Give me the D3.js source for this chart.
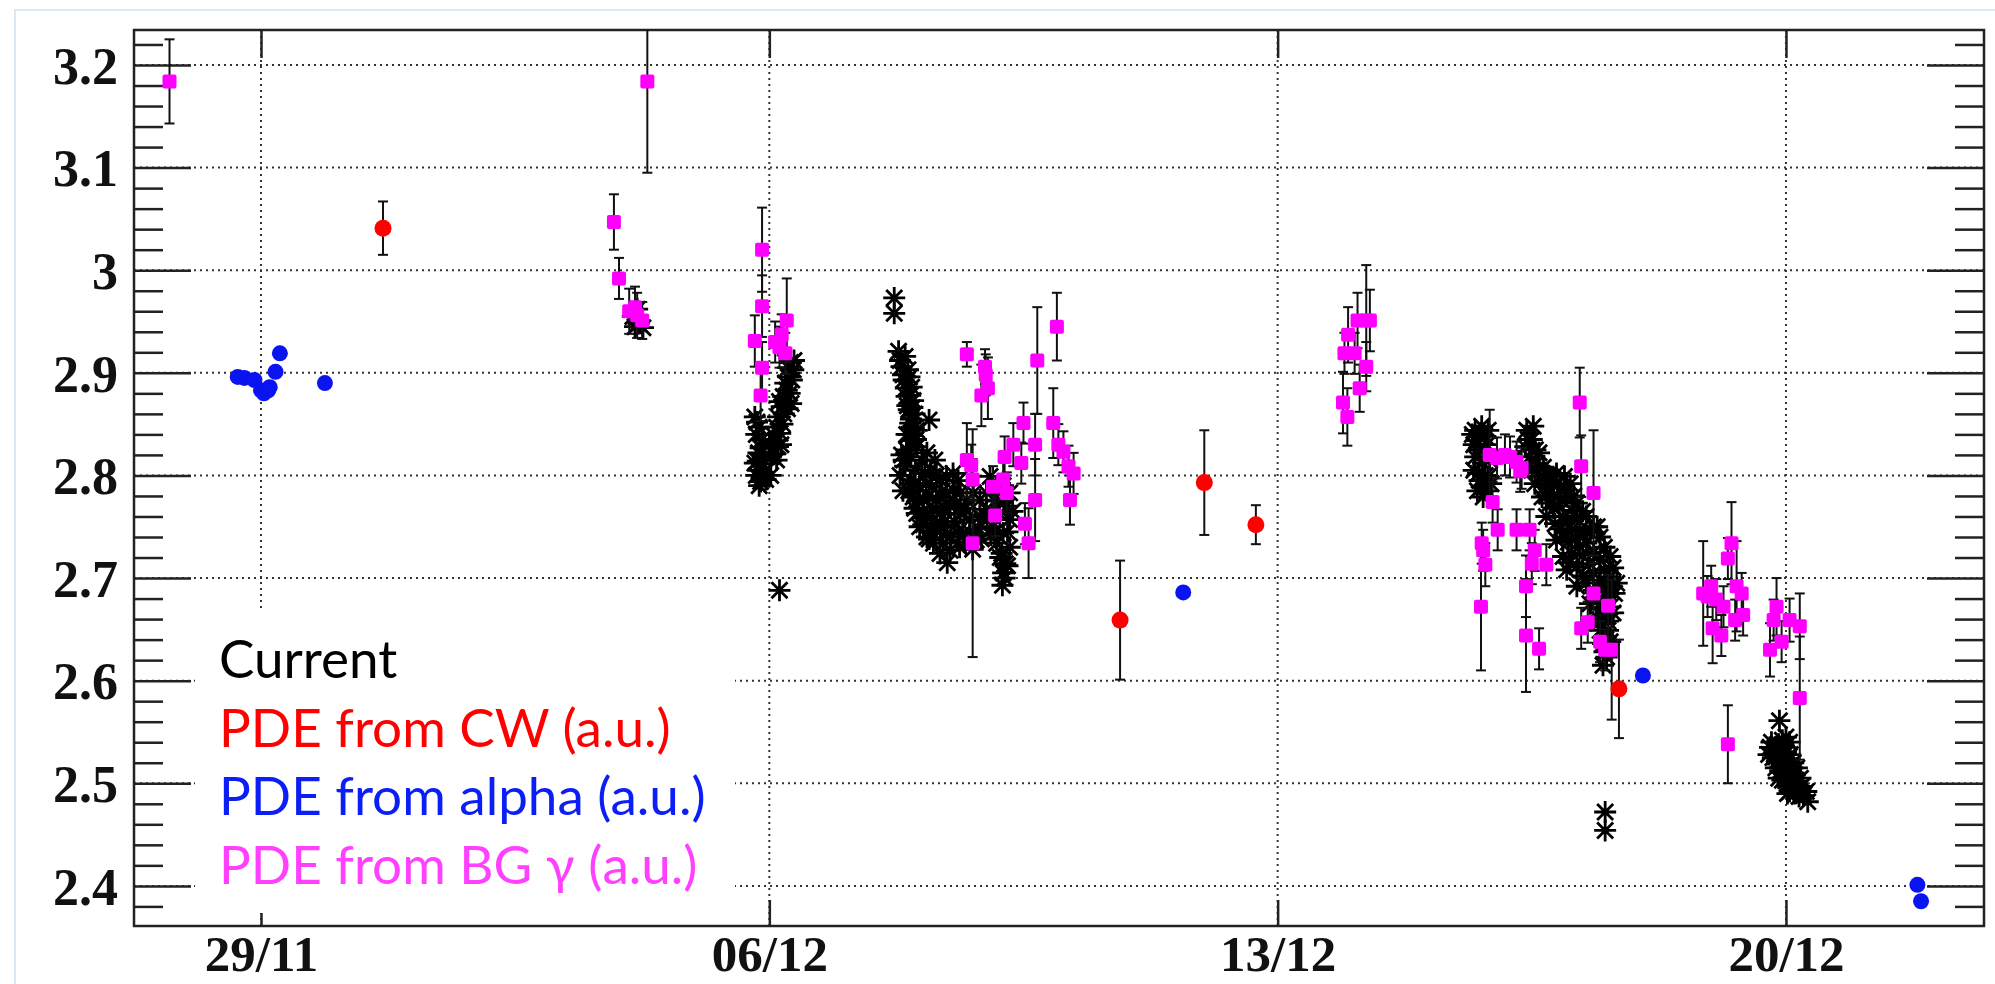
<!DOCTYPE html>
<html>
<head>
<meta charset="utf-8">
<script src="https://cdn.jsdelivr.net/npm/d3@7"></script>
<style>
  html, body { margin: 0; padding: 0; background: #fff; }
  svg { display: block; }
</style>
</head>
<body>
<svg id="chart" width="1995" height="984"></svg>
<script>
// all times are days after 29/11 00:00

// "Current" (black asterisks), by cluster
var curB = [[5.12,2.955],[5.18,2.962],[5.20,2.948],[5.26,2.944],[5.15,2.945]]
var curC = [[6.80,2.857],[6.86,2.847],[6.82,2.840],[6.88,2.827],[6.84,2.814],[6.92,2.811],[6.86,2.805],[6.90,2.798],
  [6.88,2.794],[6.82,2.800],[6.94,2.820],[7.29,2.910],[7.33,2.903],[7.26,2.896],[7.22,2.890],[7.31,2.893],[7.24,2.883],
  [7.19,2.877],[7.17,2.867],[7.12,2.857],[7.10,2.847],[7.15,2.841],[7.08,2.834],[7.12,2.828],[7.06,2.821],[7.10,2.815],
  [7.20,2.860],[7.28,2.880],[7.14,2.872],[7.14,2.688],
  [6.83,2.852],[6.90,2.835],[6.85,2.822],[6.92,2.803],[6.80,2.812],[6.95,2.796],[6.86,2.790],[7.02,2.818],[7.05,2.840],
  [7.18,2.850],[7.22,2.872],[7.26,2.905],[7.34,2.912],[7.30,2.870],[7.25,2.865],[7.16,2.830],[7.02,2.800],[7.00,2.830]]
var curD = [[8.72,2.973],[8.72,2.958],[8.78,2.921],[8.87,2.916],[8.82,2.906],[8.91,2.903],[8.85,2.893],[8.96,2.886],
  [8.89,2.877],[8.98,2.873],[8.92,2.864],[9.00,2.860],[8.94,2.851],[9.03,2.844],[8.96,2.834],[8.89,2.840],[9.20,2.854],
  [8.80,2.912],[8.84,2.898],[8.93,2.896],[8.88,2.885],[8.94,2.878],[8.90,2.868],[8.97,2.866],[8.95,2.855],[8.99,2.846],
  [8.92,2.840],[9.02,2.835],
  [8.89,2.825],[9.03,2.828],[9.17,2.822],[9.28,2.815],[8.87,2.809],[9.01,2.805],[9.14,2.802],[8.94,2.796],[9.07,2.789],
  [9.24,2.789],[9.35,2.796],[8.98,2.779],[9.12,2.776],[9.30,2.776],[9.44,2.783],[9.53,2.786],[9.03,2.763],[9.17,2.760],
  [9.35,2.763],[9.49,2.770],[9.07,2.750],[9.30,2.747],[9.39,2.734],[9.49,2.727],[9.44,2.743],[9.63,2.783],[9.72,2.776],
  [9.81,2.783],[9.90,2.776],[9.63,2.763],[9.76,2.757],[9.90,2.760],[9.67,2.744],[9.85,2.737],[9.99,2.783],[9.99,2.767],
  [10.08,2.750],[10.17,2.763],[10.13,2.734],[10.22,2.744],[10.20,2.724],[10.25,2.714],[10.22,2.705],[10.21,2.693],
  [10.31,2.730],[10.31,2.757],[10.27,2.770],[10.31,2.783],[10.13,2.789],[10.04,2.799],[9.44,2.799],[9.53,2.802],
  [9.35,2.724],[9.26,2.734],[9.17,2.740],[8.80,2.800],[8.84,2.785],[8.82,2.820],
  [8.85,2.815],[8.95,2.818],[9.10,2.815],[9.22,2.805],[9.00,2.792],[9.16,2.792],[9.30,2.800],[8.92,2.785],[9.05,2.775],
  [9.20,2.780],[9.38,2.785],[9.60,2.795],[9.00,2.768],[9.12,2.765],[9.25,2.768],[9.40,2.770],[9.56,2.772],[9.70,2.768],
  [9.12,2.752],[9.22,2.750],[9.36,2.752],[9.55,2.755],[9.60,2.745],[9.76,2.745],[9.88,2.748],[9.20,2.738],[9.50,2.740],
  [9.70,2.735],[9.80,2.728],[9.92,2.738],[10.05,2.742],[10.00,2.760],[10.15,2.775],[10.22,2.790],[10.35,2.765],
  [10.28,2.745],[10.18,2.720],[10.28,2.712],[10.24,2.700],[9.62,2.730],[9.45,2.715],[9.42,2.755]]
var curF = [[16.72,2.844],[16.81,2.848],[16.90,2.844],[16.74,2.834],[16.86,2.838],[16.79,2.825],[16.72,2.818],
  [16.83,2.812],[16.76,2.802],[16.90,2.799],[16.81,2.789],[16.94,2.792],[16.83,2.779],
  [16.70,2.830],[16.78,2.840],[16.88,2.830],[16.92,2.815],[16.70,2.805],[16.78,2.795],[16.86,2.800],[16.88,2.785],
  [16.75,2.785],[16.68,2.840],
  [17.43,2.844],[17.52,2.848],[17.50,2.835],[17.41,2.828],[17.47,2.818],[17.57,2.812],[17.50,2.805],[17.61,2.799],
  [17.54,2.792],[17.68,2.789],[17.75,2.796],[17.84,2.802],[17.95,2.799],[18.03,2.792],[17.64,2.779],[17.75,2.773],
  [17.86,2.779],[17.70,2.760],[17.82,2.753],[17.93,2.760],[18.05,2.766],[18.12,2.773],[18.25,2.760],[17.84,2.737],
  [17.93,2.740],[18.05,2.747],[18.16,2.747],[18.35,2.750],[17.93,2.721],[18.05,2.724],[18.16,2.731],[18.25,2.734],
  [18.44,2.740],[17.98,2.708],[18.12,2.711],[18.30,2.714],[18.44,2.718],[18.58,2.721],[18.12,2.692],[18.25,2.695],
  [18.44,2.698],[18.58,2.701],[18.67,2.695],[18.30,2.675],[18.41,2.679],[18.53,2.682],[18.64,2.685],[18.39,2.662],
  [18.50,2.662],[18.62,2.666],[18.44,2.649],[18.55,2.649],[18.48,2.636],[18.53,2.623],[18.48,2.615],
  [17.45,2.835],[17.55,2.825],[17.60,2.822],[17.66,2.808],[17.72,2.800],[17.80,2.790],[17.90,2.788],[17.98,2.780],
  [18.08,2.780],[17.70,2.780],[17.80,2.768],[17.88,2.770],[17.98,2.755],[18.12,2.758],[18.20,2.765],[17.90,2.748],
  [18.00,2.735],[18.10,2.738],[18.22,2.742],[18.30,2.745],[18.40,2.750],[18.02,2.715],[18.20,2.722],[18.35,2.725],
  [18.50,2.730],[18.20,2.702],[18.35,2.705],[18.50,2.708],[18.62,2.710],[18.35,2.688],[18.50,2.690],[18.60,2.692],
  [18.45,2.670],[18.58,2.672],[18.55,2.658],[18.58,2.638],[18.42,2.656],[18.52,2.640],[18.50,2.628],
  [18.51,2.472],[18.51,2.454]]
var curH = [[20.91,2.561],[20.80,2.540],[20.85,2.535],[20.90,2.538],[20.95,2.542],[21.00,2.545],[21.05,2.540],
  [20.76,2.528],[20.82,2.525],[20.88,2.522],[20.94,2.527],[21.00,2.530],[21.06,2.528],[21.10,2.520],[20.86,2.515],
  [20.92,2.512],[20.98,2.515],[21.04,2.513],[21.10,2.510],[21.15,2.515],[20.95,2.503],[21.02,2.500],[21.08,2.498],
  [21.14,2.502],[21.20,2.505],[21.05,2.492],[21.12,2.490],[21.18,2.487],[21.24,2.488],[21.30,2.482],
  [20.78,2.535],[20.84,2.528],[20.90,2.530],[20.97,2.535],[21.02,2.522],[21.08,2.515],[20.90,2.505],[21.00,2.508],
  [21.06,2.505],[21.12,2.508],[21.18,2.495],[21.10,2.495],[21.22,2.497],[21.28,2.492],[21.02,2.490]]

// PDE from BG gamma (magenta): time, value, error
var bgT = [-1.26, 4.86, 4.93, 5.07, 5.15, 5.18, 5.25, 5.32,
  6.90, 6.90, 6.80, 6.90, 6.88, 7.24, 7.17, 7.08, 7.14, 7.22,
  9.72, 9.97, 9.98, 10.01, 9.92, 9.72, 9.78, 9.80, 9.80, 10.11, 10.08, 10.22, 10.27, 10.24, 10.36, 10.47,
  10.50, 10.52, 10.57, 10.66, 10.69, 10.66, 10.96, 10.91, 10.98, 11.05, 11.12, 11.19, 11.14,
  14.90, 14.96, 14.97, 14.92, 15.06, 15.10, 15.22, 15.27, 15.22, 15.13,
  16.81, 16.83, 16.86, 16.80, 16.92, 17.02, 17.13, 17.20, 17.29, 17.36, 17.34, 16.96, 17.03, 17.29, 17.47,
  17.54, 17.50, 17.70, 17.42, 17.42, 17.60, 18.16, 18.18, 18.35, 18.35, 18.55, 18.18, 18.27, 18.44, 18.51, 18.60,
  19.86, 19.92, 19.97, 19.99, 20.11, 20.04, 20.14, 20.25, 20.20, 20.32, 20.39, 20.30, 20.41, 20.20,
  20.87, 20.83, 20.78, 20.94, 21.05, 21.19, 21.19]
var bgV = [3.184, 3.047, 2.992, 2.960, 2.964, 2.956, 2.951, 3.184,
  3.020, 2.965, 2.931, 2.905, 2.878, 2.951, 2.937, 2.930, 2.925, 2.919,
  2.918, 2.906, 2.898, 2.885, 2.878, 2.815, 2.810, 2.796, 2.734, 2.761, 2.789, 2.796, 2.783, 2.818, 2.830, 2.812,
  2.851, 2.753, 2.734, 2.776, 2.912, 2.830, 2.945, 2.851, 2.830, 2.823, 2.809, 2.802, 2.776,
  2.871, 2.857, 2.937, 2.919, 2.919, 2.951, 2.951, 2.951, 2.906, 2.885,
  2.734, 2.727, 2.713, 2.672, 2.820, 2.817, 2.820, 2.818, 2.813, 2.807, 2.804, 2.774, 2.747, 2.747, 2.747,
  2.727, 2.714, 2.713, 2.692, 2.644, 2.631, 2.871, 2.809, 2.783, 2.685, 2.673, 2.651, 2.657, 2.638, 2.630, 2.630,
  2.685, 2.682, 2.692, 2.651, 2.644, 2.679, 2.672, 2.734, 2.719, 2.692, 2.685, 2.659, 2.664, 2.538,
  2.672, 2.659, 2.630, 2.638, 2.659, 2.653, 2.583]
var bgE = [0.041, 0.027, 0.020, 0.022, 0.020, 0.022, 0.018, 0.089,
  0.041, 0.030, 0.025, 0.025, 0.025, 0.041, 0.020, 0.020, 0.020, 0.020,
  0.012, 0.017, 0.020, 0.030, 0.030, 0.036, 0.020, 0.020, 0.111, 0.020, 0.020, 0.020, 0.020, 0.020, 0.021, 0.020,
  0.020, 0.020, 0.034, 0.040, 0.052, 0.030, 0.033, 0.034, 0.020, 0.020, 0.020, 0.020, 0.024,
  0.030, 0.028, 0.027, 0.020, 0.020, 0.027, 0.054, 0.030, 0.024, 0.023,
  0.020, 0.020, 0.021, 0.062, 0.044, 0.020, 0.020, 0.020, 0.020, 0.020, 0.020, 0.020, 0.020, 0.020, 0.020,
  0.020, 0.020, 0.020, 0.030, 0.055, 0.020, 0.034, 0.030, 0.061, 0.030, 0.030, 0.020, 0.020, 0.020, 0.020, 0.068,
  0.051, 0.020, 0.020, 0.034, 0.020, 0.020, 0.020, 0.040, 0.020, 0.044, 0.020, 0.020, 0.020, 0.038,
  0.028, 0.020, 0.026, 0.020, 0.021, 0.032, 0.060]

// PDE from CW (red)
var cwT = [1.68, 11.83, 12.99, 13.70, 18.70]
var cwV = [3.041, 2.659, 2.793, 2.752, 2.592]
var cwE = [0.026, 0.058, 0.051, 0.019, 0.048]

// PDE from alpha (blue)
var alT = [-0.32, -0.23, -0.09, 0.00, 0.04, 0.10, 0.12, 0.20, 0.26, 0.88, 12.70, 19.03, 22.81, 22.86]
var alV = [2.896, 2.895, 2.893, 2.883, 2.880, 2.883, 2.886, 2.901, 2.919, 2.890, 2.686, 2.605, 2.401, 2.385]

var xTickDays = [0, 7, 14, 21]
var yTicks = [2.4, 2.5, 2.6, 2.7, 2.8, 2.9, 3.0, 3.1, 3.2]
var yTickLabels = ["2.4", "2.5", "2.6", "2.7", "2.8", "2.9", "3", "3.1", "3.2"]

var legendLabels = ["Current", "PDE from CW (a.u.)", "PDE from alpha (a.u.)", "PDE from BG \u03b3 (a.u.)"]
var legendColors = ["#000000", "#ff0000", "#0a1ef5", "#ff40ff"]

var DAY = 86400000
var base = Date.UTC(2017, 10, 29)
function toDate(d) { return new Date(base + d * DAY) }

var svg = d3.select("#chart")
var frame = {left: 134, right: 1984, top: 30, bottom: 926}

var x = d3.scaleUtc()
  .domain([toDate(-1.749), toDate(23.727)])
  .range([frame.left, frame.right])
var y = d3.scaleLinear()
  .domain([2.3609, 3.2341])
  .range([frame.bottom, frame.top])

// slide border
svg.append("rect")
  .attr("x", 15).attr("y", 10).attr("width", 2100).attr("height", 1100)
  .attr("fill", "none").attr("stroke", "#d8e9f4").attr("stroke-width", 2)

var xTicks = xTickDays.map(toDate)

// dotted grid
var grid = svg.append("g").attr("stroke", "#333").attr("stroke-width", 2).attr("stroke-dasharray", "2 4")
grid.selectAll(".gy").data(yTicks).enter().append("line")
  .attr("x1", frame.left).attr("x2", frame.right)
  .attr("y1", function(d) { return y(d) }).attr("y2", function(d) { return y(d) })
grid.selectAll(".gx").data(xTicks).enter().append("line")
  .attr("y1", frame.top).attr("y2", frame.bottom)
  .attr("x1", function(d) { return x(d) }).attr("x2", function(d) { return x(d) })

// ticks (ROOT style: on all four sides, pointing in)
var minor = d3.range(2.38, 3.2301, 0.02).filter(function(v) {
  return Math.abs(v * 10 - Math.round(v * 10)) > 0.01
})
function tickStyle(g) {
  g.select(".domain").remove()
  g.selectAll(".tick line").attr("stroke", "#222").attr("stroke-width", 2.5)
}
svg.append("g").attr("transform", "translate(" + frame.left + ",0)")
  .call(d3.axisRight(y).tickValues(yTicks).tickSize(57).tickFormat("")).call(tickStyle)
svg.append("g").attr("transform", "translate(" + frame.left + ",0)")
  .call(d3.axisRight(y).tickValues(minor).tickSize(29).tickFormat("")).call(tickStyle)
svg.append("g").attr("transform", "translate(" + frame.right + ",0)")
  .call(d3.axisLeft(y).tickValues(yTicks).tickSize(57).tickFormat("")).call(tickStyle)
svg.append("g").attr("transform", "translate(" + frame.right + ",0)")
  .call(d3.axisLeft(y).tickValues(minor).tickSize(29).tickFormat("")).call(tickStyle)
svg.append("g").attr("transform", "translate(0," + frame.top + ")")
  .call(d3.axisBottom(x).tickValues(xTicks).tickSize(28).tickFormat("")).call(tickStyle)
svg.append("g").attr("transform", "translate(0," + frame.bottom + ")")
  .call(d3.axisTop(x).tickValues(xTicks).tickSize(26).tickFormat("")).call(tickStyle)

// tick labels
var yl = svg.append("g").attr("transform", "translate(" + frame.left + ",0)")
  .call(d3.axisLeft(y).tickValues(yTicks).tickSize(0).tickPadding(16)
    .tickFormat(function(d, i) { return yTickLabels[i] }))
yl.select(".domain").remove()
yl.selectAll("text").attr("font-family", "'Liberation Serif', serif").attr("font-weight", "bold")
  .attr("font-size", 52).attr("fill", "#111").attr("dy", "0.35em")

var xl = svg.append("g").attr("transform", "translate(0," + frame.bottom + ")")
  .call(d3.axisBottom(x).tickValues(xTicks).tickSize(0).tickPadding(10)
    .tickFormat(d3.utcFormat("%d/%m")))
xl.select(".domain").remove()
xl.selectAll("text").attr("font-family", "'Liberation Serif', serif").attr("font-weight", "bold")
  .attr("font-size", 51).attr("fill", "#111").attr("dy", "0.69em")

// frame
svg.append("rect")
  .attr("x", frame.left).attr("y", frame.top)
  .attr("width", frame.right - frame.left).attr("height", frame.bottom - frame.top)
  .attr("fill", "none").attr("stroke", "#222").attr("stroke-width", 2.5)

svg.append("clipPath").attr("id", "clip").append("rect")
  .attr("x", frame.left).attr("y", frame.top)
  .attr("width", frame.right - frame.left).attr("height", frame.bottom - frame.top)
var plot = svg.append("g").attr("clip-path", "url(#clip)")

// Current: asterisks
var current = [].concat(curB, curC, curD, curF, curH)
plot.append("g").selectAll("path").data(current).enter().append("path")
  .attr("transform", function(d) { return "translate(" + x(toDate(d[0])) + "," + y(d[1]) + ")" })
  .attr("d", "M-11,0H11M0,-11V11M-8,-8L8,8M-8,8L8,-8")
  .attr("stroke", "#000").attr("stroke-width", 2.8).attr("fill", "none")

// error bars with caps
function errorBars(g, t, v, e) {
  var idx = d3.range(t.length)
  var eb = g.append("g").attr("stroke", "#111").attr("stroke-width", 2)
  eb.selectAll(".v").data(idx).enter().append("line")
    .attr("x1", function(i) { return x(toDate(t[i])) }).attr("x2", function(i) { return x(toDate(t[i])) })
    .attr("y1", function(i) { return y(v[i] - e[i]) }).attr("y2", function(i) { return y(v[i] + e[i]) })
  ;[-1, 1].forEach(function(s) {
    eb.selectAll(".c" + s).data(idx).enter().append("line")
      .attr("x1", function(i) { return x(toDate(t[i])) - 5 }).attr("x2", function(i) { return x(toDate(t[i])) + 5 })
      .attr("y1", function(i) { return y(v[i] + s * e[i]) }).attr("y2", function(i) { return y(v[i] + s * e[i]) })
  })
}

// BG gamma: magenta squares
errorBars(plot, bgT, bgV, bgE)
plot.append("g").selectAll("rect").data(d3.range(bgT.length)).enter().append("rect")
  .attr("x", function(i) { return x(toDate(bgT[i])) - 7 })
  .attr("y", function(i) { return y(bgV[i]) - 7 })
  .attr("width", 14).attr("height", 14).attr("rx", 2)
  .attr("fill", "#ff00ff")

// CW: red circles
errorBars(plot, cwT, cwV, cwE)
plot.append("g").selectAll("circle").data(d3.range(cwT.length)).enter().append("circle")
  .attr("cx", function(i) { return x(toDate(cwT[i])) })
  .attr("cy", function(i) { return y(cwV[i]) })
  .attr("r", 8.5).attr("fill", "#ff0000")

// alpha: blue circles
plot.append("g").selectAll("circle").data(d3.range(alT.length)).enter().append("circle")
  .attr("cx", function(i) { return x(toDate(alT[i])) })
  .attr("cy", function(i) { return y(alV[i]) })
  .attr("r", 8).attr("fill", "#0a14f0")

// legend box (white, covers the grid)
svg.append("rect")
  .attr("x", 195).attr("y", 612).attr("width", 540).attr("height", 301)
  .attr("fill", "#fff")
svg.append("g").selectAll("text").data(legendLabels).enter().append("text")
  .attr("x", 219)
  .attr("y", function(d, i) { return 678 + i * 68.7 })
  .attr("font-family", "Lato, 'Open Sans', sans-serif")
  .attr("font-size", 53)
  .attr("fill", function(d, i) { return legendColors[i] })
  .text(function(d) { return d })
</script>
</body>
</html>
